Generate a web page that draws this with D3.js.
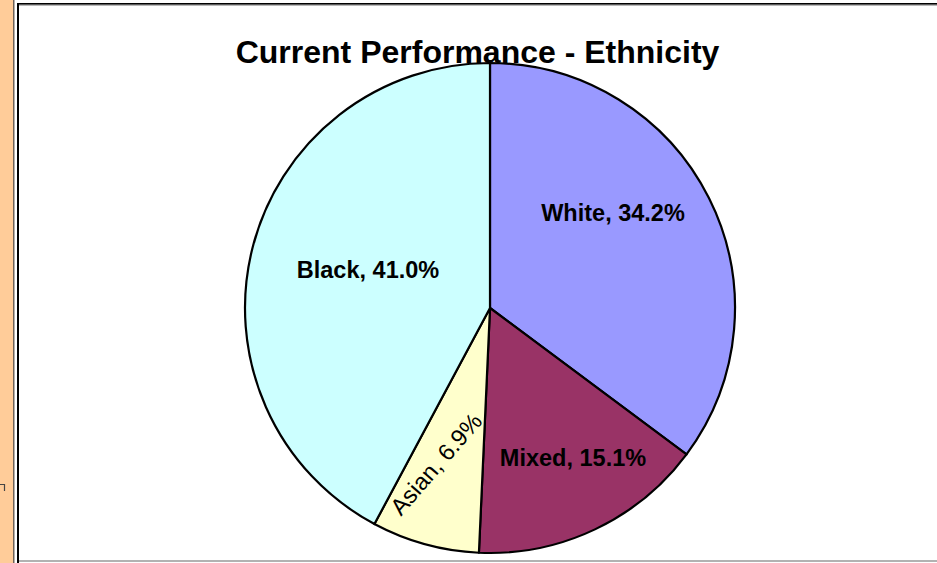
<!DOCTYPE html>
<html>
<head>
<meta charset="utf-8">
<script src="https://cdn.jsdelivr.net/npm/d3@7"></script>
<style>
  body { margin: 0; background: #fff; }
  text { font-family: Arial, "Liberation Sans", sans-serif; }
</style>
</head>
<body>
<div id="chart"></div>
<script>
// data
var categories = ["White", "Mixed", "Asian", "Black"];
var percents = [34.2, 15.1, 6.9, 41.0];
var sliceColors = ["#9999FF", "#993366", "#FFFFCC", "#CCFFFF"];
var titleText = "Current Performance - Ethnicity";

var width = 937,
	height = 563,
	cx = 490,
	cy = 308,
	radius = 245;

// where Excel put each label, relative to the pie centre
var labelLayout = [
	{ dx: 123, dy: -95, rotate: 0, bold: true },
	{ dx: 83, dy: 150, rotate: 0, bold: true },
	{ dx: -54, dy: 156, rotate: -49, bold: false },
	{ dx: -122, dy: -38, rotate: 0, bold: true }
];

var svg = d3.select("#chart")
	.append("svg")
	.attr("width", width)
	.attr("height", height);

// page frame bits
svg.append("rect")
	.attr("x", 0).attr("y", 0)
	.attr("width", 13.5).attr("height", height)
	.style("fill", "#FFCC99");
svg.append("line")
	.attr("x1", 13.75).attr("y1", 0).attr("x2", 13.75).attr("y2", height)
	.style("stroke", "#6e6258").style("stroke-width", 1.5);
svg.append("path")
	.attr("d", "M0,484.5H4.5V491")
	.style("fill", "none").style("stroke", "#444").style("stroke-width", 1.2);
svg.append("line")
	.attr("x1", 18).attr("y1", 3).attr("x2", 18).attr("y2", height)
	.style("stroke", "#000").style("stroke-width", 2);
svg.append("line")
	.attr("x1", 17).attr("y1", 3.8).attr("x2", width).attr("y2", 3.8)
	.style("stroke", "#000").style("stroke-width", 1.8);
svg.append("line")
	.attr("x1", 19).attr("y1", 5.2).attr("x2", width).attr("y2", 5.2)
	.style("stroke", "#999").style("stroke-width", 1);
svg.append("line")
	.attr("x1", 19).attr("y1", 561).attr("x2", width).attr("y2", 561)
	.style("stroke", "#999").style("stroke-width", 1.5);

var pie = d3.pie().sort(null).value(function(d) { return d; });
var arc = d3.arc().innerRadius(0).outerRadius(radius);
var arcs = pie(percents);

var g = svg.append("g").attr("transform", "translate(" + cx + "," + cy + ")");

g.selectAll("path.slice")
	.data(arcs)
	.enter()
	.append("path")
	.attr("class", "slice")
	.attr("d", arc)
	.style("fill", function(d, i) { return sliceColors[i]; })
	.style("stroke", "#000")
	.style("stroke-width", 2.2)
	.style("stroke-linejoin", "round");

g.selectAll("text.label")
	.data(arcs)
	.enter()
	.append("text")
	.attr("class", "label")
	.attr("transform", function(d, i) {
		var p = labelLayout[i];
		return "translate(" + p.dx + "," + p.dy + ") rotate(" + p.rotate + ")";
	})
	.attr("dy", "0.35em")
	.attr("text-anchor", "middle")
	.style("font-size", "23.5px")
	.style("font-weight", function(d, i) { return labelLayout[i].bold ? "bold" : "normal"; })
	.style("fill", "#000")
	.text(function(d, i) { return categories[i] + ", " + percents[i].toFixed(1) + "%"; });

svg.append("text")
	.attr("x", 477.5)
	.attr("y", 63)
	.attr("text-anchor", "middle")
	.style("font-size", "32px")
	.style("font-weight", "bold")
	.style("fill", "#000")
	.text(titleText);
</script>
</body>
</html>
